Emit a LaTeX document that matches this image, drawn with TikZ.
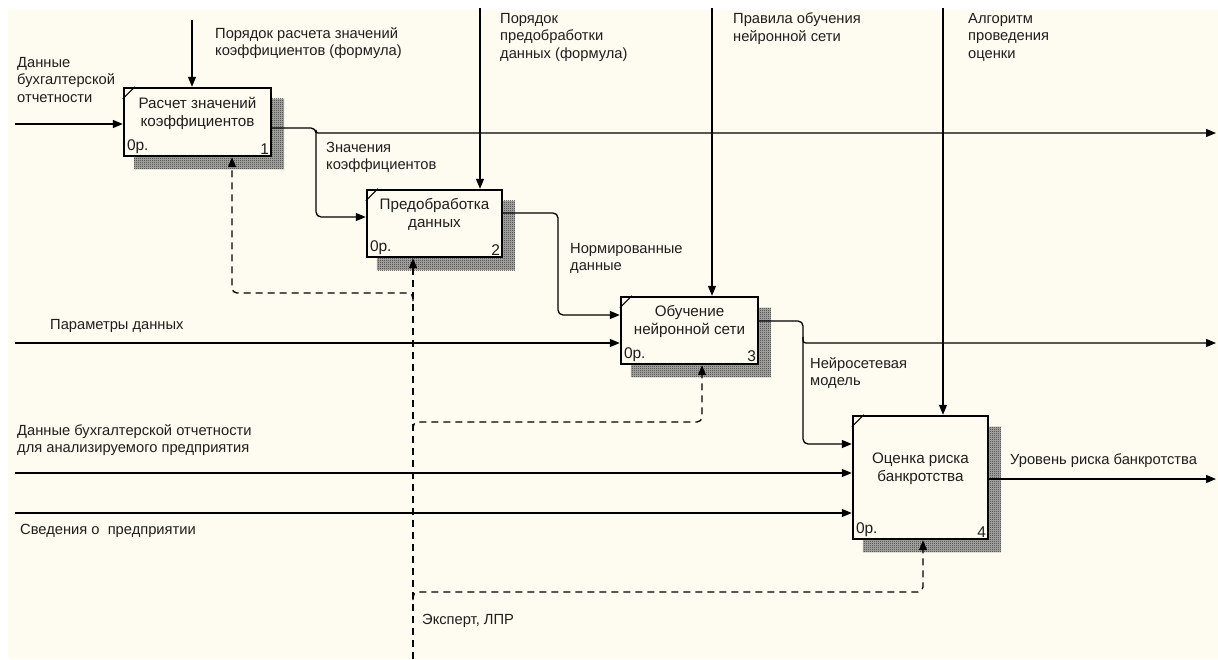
\documentclass[tikz,border=0pt]{standalone}
\usepackage{fontspec}
\setmainfont{Liberation Sans}
\usetikzlibrary{arrows.meta,patterns}
\definecolor{cream}{RGB}{254,251,240}
\definecolor{shd}{RGB}{40,40,40}
\definecolor{shdbase}{RGB}{175,175,172}
\definecolor{ink}{RGB}{30,30,30}
\pgfdeclarepatternformonly{finedots}{\pgfpointorigin}{\pgfpoint{2pt}{2pt}}{\pgfpoint{2pt}{2pt}}{%
  \pgfpathrectangle{\pgfpointorigin}{\pgfpoint{1pt}{1pt}}%
  \pgfpathrectangle{\pgfpoint{1pt}{1pt}}{\pgfpoint{1pt}{1pt}}%
  \pgfusepath{fill}}
\pgfdeclarelayer{bglayer}
\pgfdeclarelayer{shdlayer}
\pgfsetlayers{bglayer,shdlayer,main}
\begin{document}
\begin{tikzpicture}[x=1pt,y=-1pt,
  txt/.style={font=\fontsize{14.7}{17.5}\selectfont, text=ink, inner sep=0pt, align=left, anchor=north west},
  box/.style={draw, line width=2.4pt, fill=cream, inner sep=0pt},
  btxt/.style={font=\fontsize{15.2}{18}\selectfont, text=ink, align=center, inner sep=0pt},
  cornertxt/.style={font=\fontsize{15.5}{16}\selectfont, text=ink, inner sep=3pt},
  conn/.style={line width=1.3pt, -{Triangle[length=10pt,width=8pt]}},
  mech/.style={conn, dash pattern=on 7pt off 5pt},
  tick/.style={line width=1.2pt},
  shadowfill/.style={pattern=finedots, pattern color=shd}
  ]
\useasboundingbox (0,0) rectangle (1218,659);
\begin{pgfonlayer}{bglayer}
\fill[white] (0,0) rectangle (1218,659);
\fill[cream] (8,10) rectangle (1218,659);
\end{pgfonlayer}

% boxes
\node[box, minimum width=147pt, minimum height=68pt] (b1) at (197.5,122) {};
\node[box, minimum width=135pt, minimum height=67pt] (b2) at (434.5,223.5) {};
\node[box, minimum width=137pt, minimum height=67pt] (b3) at (689.5,330.5) {};
\node[box, minimum width=135pt, minimum height=123pt] (b4) at (920.5,477.5) {};

\begin{pgfonlayer}{shdlayer}
\foreach \b in {b1,b2,b3,b4}{
  \fill[shdbase] ([shift={(11pt,-12pt)}]\b.south west) rectangle ([shift={(12pt,-12pt)}]\b.north east);
  \fill[shadowfill] ([shift={(11pt,-12pt)}]\b.south west) rectangle ([shift={(12pt,-12pt)}]\b.north east);
}
\end{pgfonlayer}

\node[btxt] (t1) at ([yshift=9pt]b1.center) {Расчет значений\\коэффициентов};
\node[btxt] (t2) at ([yshift=9pt]b2.center) {Предобработка\\данных};
\node[btxt] (t3) at ([yshift=9pt]b3.center) {Обучение\\нейронной сети};
\node[btxt] (t4) at ([yshift=9pt]b4.center) {Оценка риска\\банкротства};

\foreach \b/\n in {b1/1,b2/2,b3/3,b4/4}{
  \node[cornertxt, anchor=south west, xshift=1pt] (\b op) at (\b.south west) {0р.};
  \node[cornertxt, anchor=south east] (\b num) at (\b.south east) {\n};
  \draw[tick] ([yshift=-12pt]\b.north west) -- ([xshift=12pt]\b.north west);
}

% coordinates of free ends
\coordinate (in1) at (15,124);
\coordinate (in2) at (15,343);
\coordinate (in3) at (15,473);
\coordinate (in4) at (15,513);
\coordinate (c1) at (192,20);
\coordinate (c2) at (480,8);
\coordinate (c3) at (712,8);
\coordinate (c4) at (943,8);
\coordinate (o1) at (1216,133);
\coordinate (o2) at (1216,343);
\coordinate (o3) at (1216,479);
\coordinate (m) at (413,659);
\coordinate (k1) at (232,293);
\coordinate (k3) at (702,422);
\coordinate (k4) at (923,592);

% inputs
\draw[conn] (in1) -- (in1 -| b1.west);
\draw[conn] (in2) -- (in2 -| b3.west);
\draw[conn] (in3) -- (in3 -| b4.west);
\draw[conn] (in4) -- (in4 -| b4.west);
% controls
\draw[conn] (c1) -- (c1 |- b1.north);
\draw[conn] (c2) -- (c2 |- b2.north);
\draw[conn] (c3) -- (c3 |- b3.north);
\draw[conn] (c4) -- (c4 |- b4.north);
% outputs
\draw[conn, rounded corners=5pt] ([yshift=-6pt]b1.east) -- (316,128) -- (316,217) -- ([yshift=6.5pt]b2.west);
\draw[conn] (316,130) .. controls (316,133) .. (321,133) -- (o1);
\draw[conn, rounded corners=5pt] ([yshift=10.5pt]b2.east) -- (558,213) -- (558,315) -- ([yshift=15.5pt]b3.west);
\draw[conn, rounded corners=5pt] ([yshift=9.5pt]b3.east) -- (803,321) -- (803,444) -- ([yshift=33.5pt]b4.west);
\draw[conn] (803,337) .. controls (803,343) .. (809,343) -- (o2);
\draw[conn] ([yshift=-1.5pt]b4.east) -- (o3);
% mechanisms
\draw[mech] (m) -- (m |- b2.south);
\draw[mech, rounded corners=5pt] (413,301) -- (413,293) -- (k1) -- (k1 |- b1.south);
\draw[mech, rounded corners=5pt] (413,430) -- (413,422) -- (k3) -- (k3 |- b3.south);
\draw[mech, rounded corners=5pt] (413,600) -- (413,592) -- (k4) -- (k4 |- b4.south);

% labels
\node[txt] (l1) at (17,57) {Данные\\бухгалтерской\\отчетности};
\node[txt] (l2) at (215,27) {Порядок расчета значений\\коэффициентов (формула)};
\node[txt] (l3) at (326,142) {Значения\\коэффициентов};
\node[txt] (l4) at (500,13) {Порядок\\предобработки\\данных (формула)};
\node[txt] (l5) at (733,13) {Правила обучения\\нейронной сети};
\node[txt] (l6) at (968,13) {Алгоритм\\проведения\\оценки};
\node[txt] (l7) at (570,243) {Нормированные\\данные};
\node[txt] (l8) at (50,319) {Параметры данных};
\node[txt] (l9) at (810,357) {Нейросетевая\\модель};
\node[txt] (l10) at (17,424) {Данные бухгалтерской отчетности\\для анализируемого предприятия};
\node[txt] (l11) at (20,524) {Сведения о\ \ предприятии};
\node[txt] (l12) at (1010,454) {Уровень риска банкротства};
\node[txt] (l13) at (422,614) {Эксперт, ЛПР};
\end{tikzpicture}
\end{document}
